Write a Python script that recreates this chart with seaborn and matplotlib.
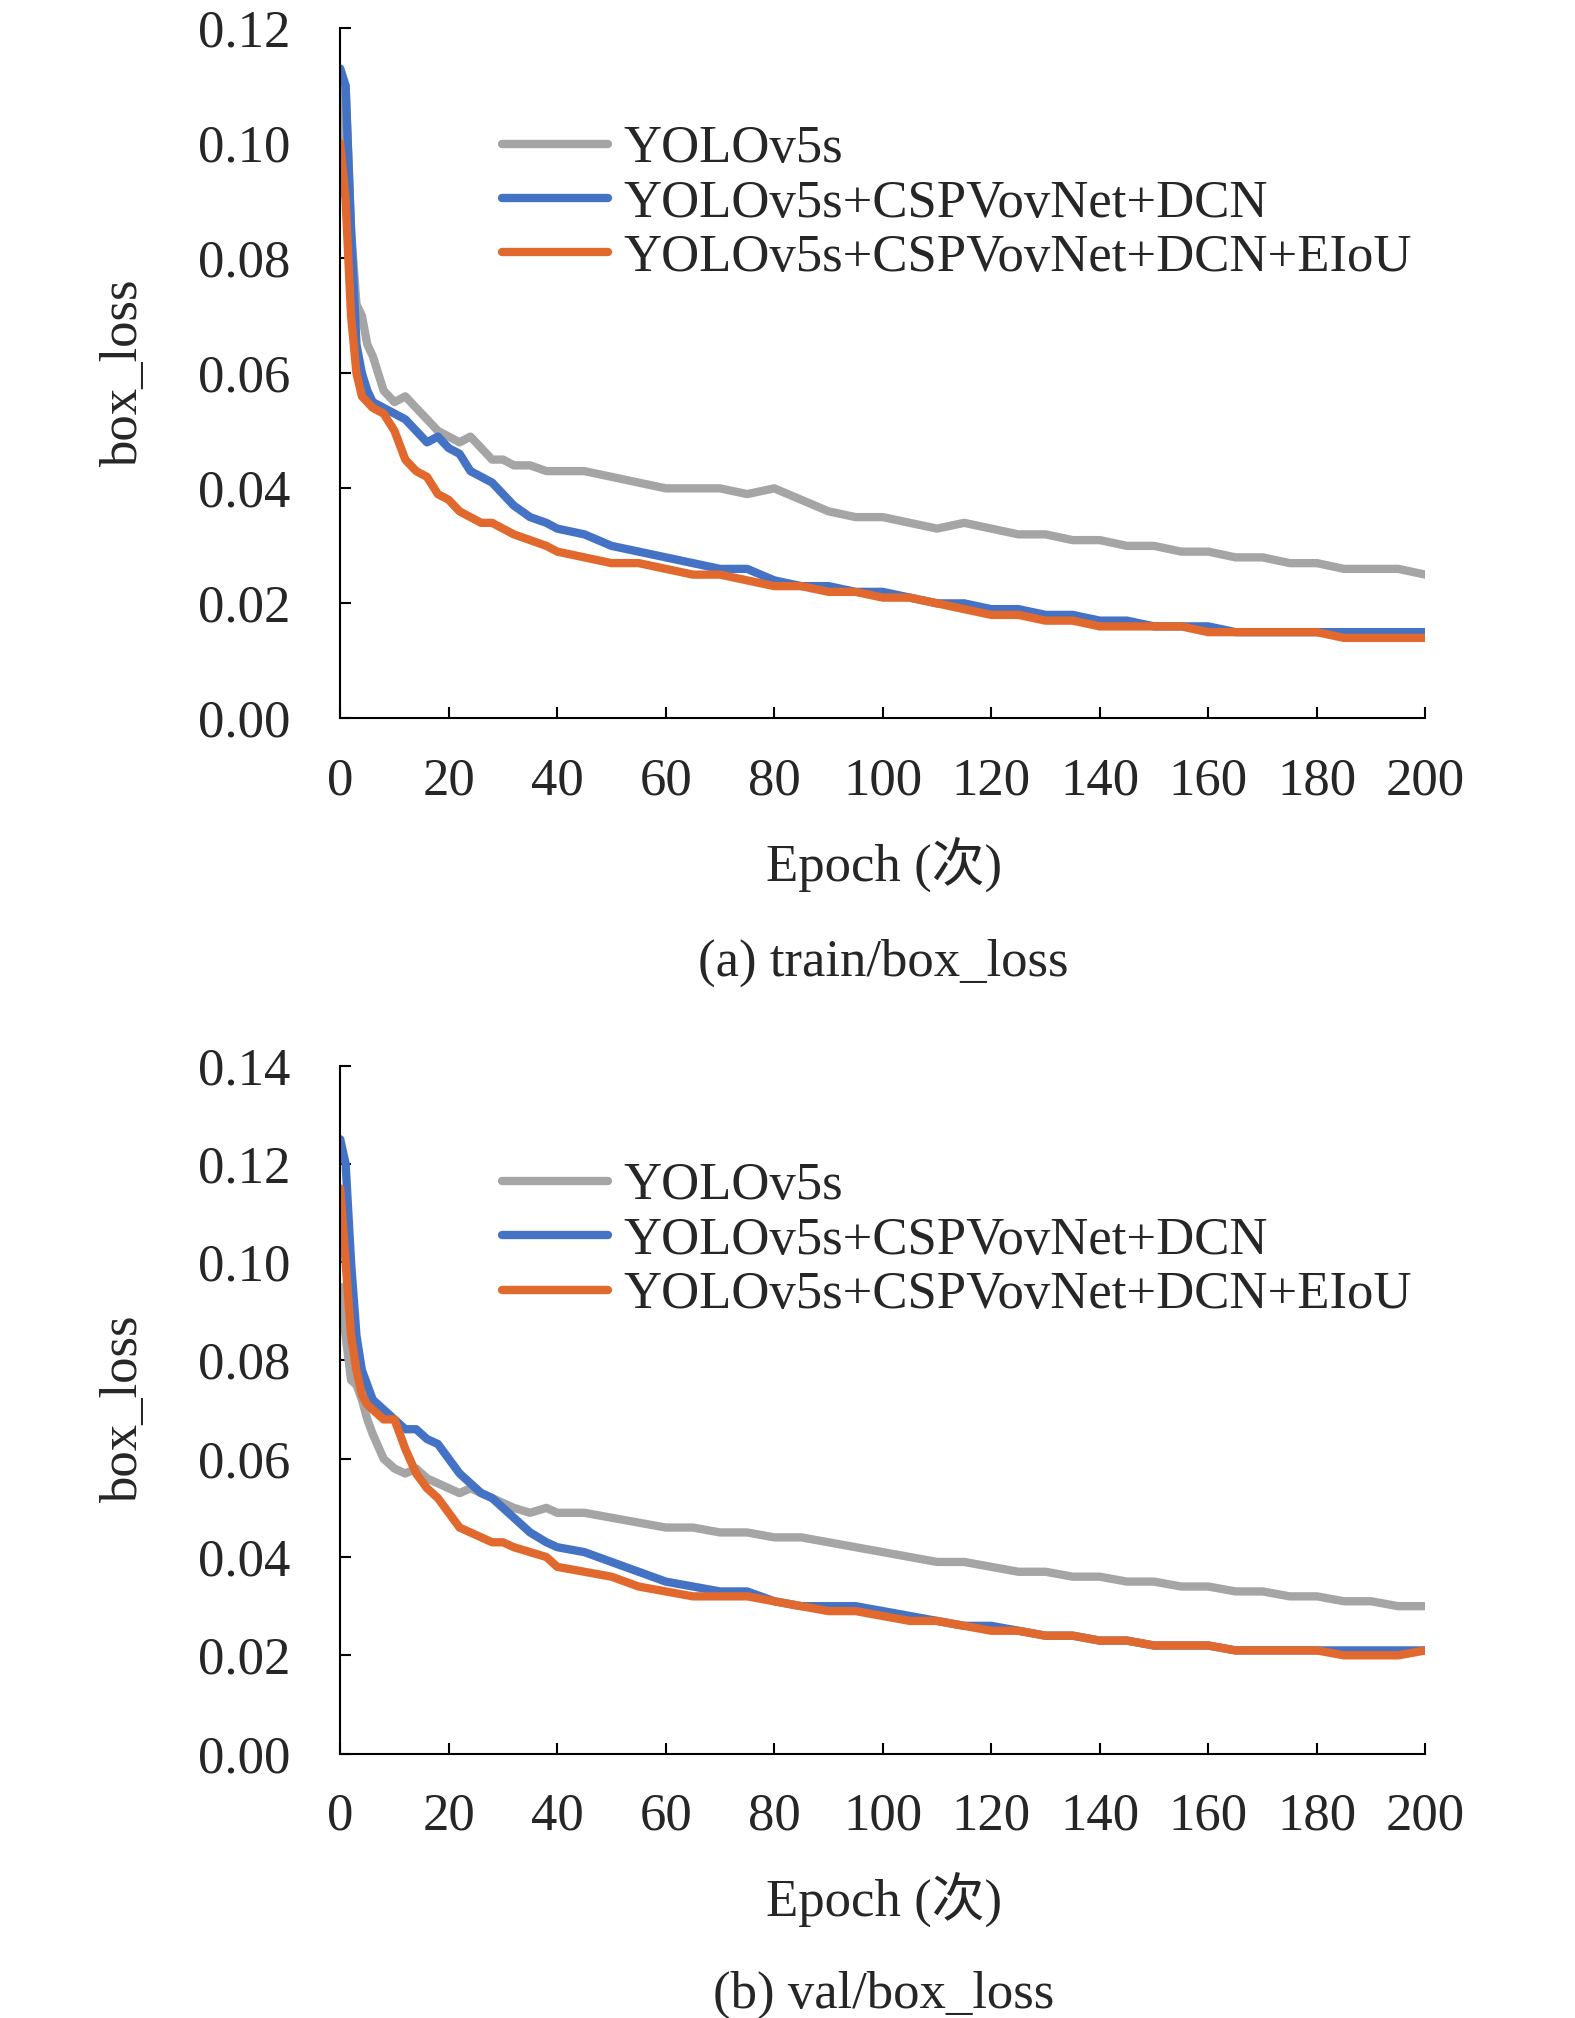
import numpy as np
import pandas as pd
import matplotlib
matplotlib.use("Agg")
import matplotlib.pyplot as plt
import seaborn as sns

epochs = [0, 1, 2, 3, 4, 5, 6, 8, 10, 12, 14, 16, 18, 20, 22, 24, 26, 28, 30, 32, 35, 38, 40,
          45, 50, 55, 60, 65, 70, 75, 80, 85, 90, 95, 100, 105, 110, 115, 120, 125, 130, 135,
          140, 145, 150, 155, 160, 165, 170, 175, 180, 185, 190, 195, 200]

series_names = ["YOLOv5s", "YOLOv5s+CSPVovNet+DCN", "YOLOv5s+CSPVovNet+DCN+EIoU"]

train_base = [0.100, 0.110, 0.085, 0.072, 0.070, 0.065, 0.063, 0.057, 0.055, 0.056, 0.054, 0.052,
              0.050, 0.049, 0.048, 0.049, 0.047, 0.045, 0.045, 0.044, 0.044, 0.043, 0.043, 0.043,
              0.042, 0.041, 0.040, 0.040, 0.040, 0.039, 0.040, 0.038, 0.036, 0.035, 0.035, 0.034,
              0.033, 0.034, 0.033, 0.032, 0.032, 0.031, 0.031, 0.030, 0.030, 0.029, 0.029, 0.028,
              0.028, 0.027, 0.027, 0.026, 0.026, 0.026, 0.025]
train_dcn = [0.113, 0.110, 0.085, 0.065, 0.060, 0.057, 0.055, 0.054, 0.053, 0.052, 0.050, 0.048,
             0.049, 0.047, 0.046, 0.043, 0.042, 0.041, 0.039, 0.037, 0.035, 0.034, 0.033, 0.032,
             0.030, 0.029, 0.028, 0.027, 0.026, 0.026, 0.024, 0.023, 0.023, 0.022, 0.022, 0.021,
             0.020, 0.020, 0.019, 0.019, 0.018, 0.018, 0.017, 0.017, 0.016, 0.016, 0.016, 0.015,
             0.015, 0.015, 0.015, 0.015, 0.015, 0.015, 0.015]
train_eiou = [0.100, 0.090, 0.070, 0.060, 0.056, 0.055, 0.054, 0.053, 0.050, 0.045, 0.043, 0.042,
              0.039, 0.038, 0.036, 0.035, 0.034, 0.034, 0.033, 0.032, 0.031, 0.030, 0.029, 0.028,
              0.027, 0.027, 0.026, 0.025, 0.025, 0.024, 0.023, 0.023, 0.022, 0.022, 0.021, 0.021,
              0.020, 0.019, 0.018, 0.018, 0.017, 0.017, 0.016, 0.016, 0.016, 0.016, 0.015, 0.015,
              0.015, 0.015, 0.015, 0.014, 0.014, 0.014, 0.014]

val_base = [0.095, 0.085, 0.076, 0.075, 0.072, 0.068, 0.065, 0.060, 0.058, 0.057, 0.058, 0.056,
            0.055, 0.054, 0.053, 0.054, 0.053, 0.052, 0.051, 0.050, 0.049, 0.050, 0.049, 0.049,
            0.048, 0.047, 0.046, 0.046, 0.045, 0.045, 0.044, 0.044, 0.043, 0.042, 0.041, 0.040,
            0.039, 0.039, 0.038, 0.037, 0.037, 0.036, 0.036, 0.035, 0.035, 0.034, 0.034, 0.033,
            0.033, 0.032, 0.032, 0.031, 0.031, 0.030, 0.030]
val_dcn = [0.125, 0.120, 0.100, 0.085, 0.078, 0.075, 0.072, 0.070, 0.068, 0.066, 0.066, 0.064,
           0.063, 0.060, 0.057, 0.055, 0.053, 0.052, 0.050, 0.048, 0.045, 0.043, 0.042, 0.041,
           0.039, 0.037, 0.035, 0.034, 0.033, 0.033, 0.031, 0.030, 0.030, 0.030, 0.029, 0.028,
           0.027, 0.026, 0.026, 0.025, 0.024, 0.024, 0.023, 0.023, 0.022, 0.022, 0.022, 0.021,
           0.021, 0.021, 0.021, 0.021, 0.021, 0.021, 0.021]
val_eiou = [0.115, 0.100, 0.085, 0.078, 0.073, 0.071, 0.070, 0.068, 0.068, 0.062, 0.057, 0.054,
            0.052, 0.049, 0.046, 0.045, 0.044, 0.043, 0.043, 0.042, 0.041, 0.040, 0.038, 0.037,
            0.036, 0.034, 0.033, 0.032, 0.032, 0.032, 0.031, 0.030, 0.029, 0.029, 0.028, 0.027,
            0.027, 0.026, 0.025, 0.025, 0.024, 0.024, 0.023, 0.023, 0.022, 0.022, 0.022, 0.021,
            0.021, 0.021, 0.021, 0.020, 0.020, 0.020, 0.021]

palette = {series_names[0]: "#A5A5A5", series_names[1]: "#4472C4", series_names[2]: "#E2692E"}

sns.set_theme(style="white")
plt.rcParams["font.family"] = ["Liberation Serif", "Noto Sans CJK SC"]
FS = 38


def long_df(vals):
    return pd.DataFrame({
        "epoch": epochs * 3,
        "loss": sum(vals, []),
        "model": sum([[n] * len(epochs) for n in series_names], []),
    })


fig = plt.figure(figsize=(15.75, 20.18), dpi=100)
panels = [
    ([train_base, train_dcn, train_eiou], 0.12, [0.216, 0.644, 0.689, 0.342], 0.571, 0.523, "(a) train/box_loss"),
    ([val_base, val_dcn, val_eiou], 0.14, [0.216, 0.131, 0.689, 0.341], 0.0585, 0.0115, "(b) val/box_loss"),
]
for vals, ymax, rect, xl_y, cap_y, cap in panels:
    ax = fig.add_axes(rect)
    sns.lineplot(data=long_df(vals), x="epoch", y="loss", hue="model", palette=palette,
                 linewidth=6, ax=ax)
    ax.set_xlim(0, 200)
    ax.set_ylim(0, ymax)
    ax.set_xticks(range(0, 201, 20))
    ax.set_yticks(np.arange(0, ymax + 1e-9, 0.02))
    ax.set_yticklabels([f"{v:.2f}" for v in np.arange(0, ymax + 1e-9, 0.02)])
    ax.tick_params(labelsize=FS, direction="in", length=8, width=1.5, color="black",
                   left=True, bottom=True)
    ax.tick_params(axis="x", pad=28)
    ax.tick_params(axis="y", pad=36)
    for s in ["top", "right"]:
        ax.spines[s].set_visible(False)
    for s in ["left", "bottom"]:
        ax.spines[s].set_color("black")
        ax.spines[s].set_linewidth(1.5)
    ax.set_xlabel("")
    ax.set_ylabel("box_loss", fontsize=FS, labelpad=36)
    ax.legend(frameon=False, fontsize=FS, loc="upper left", bbox_to_anchor=(0.13, 0.89),
              handlelength=2.0, handletextpad=0.3, labelspacing=0.12, borderaxespad=0)
    fig.text(0.561, xl_y, "Epoch (次)", fontsize=FS, ha="center", va="center")
    fig.text(0.561, cap_y, cap, fontsize=FS, ha="center", va="center")

fig.savefig("out.png", dpi=100, facecolor="white")
